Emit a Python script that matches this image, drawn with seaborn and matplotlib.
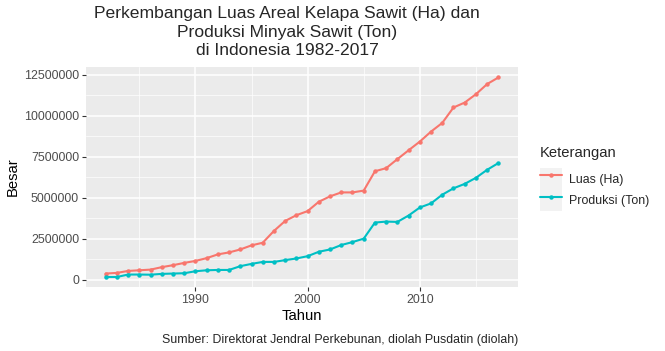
import numpy as np
import pandas as pd
import matplotlib
matplotlib.use("Agg")
import matplotlib.pyplot as plt
import seaborn as sns
from matplotlib.lines import Line2D
from matplotlib.patches import Patch
from matplotlib.legend_handler import HandlerTuple
from matplotlib.ticker import StrMethodFormatter, MultipleLocator

# data
tahun = list(range(1982, 2018))
luas = [0.37, 0.41, 0.53, 0.57, 0.61, 0.76, 0.88, 1.02, 1.14, 1.31,
        1.54, 1.66, 1.84, 2.09, 2.25, 2.97, 3.58, 3.93, 4.18, 4.75,
        5.08, 5.32, 5.32, 5.43, 6.61, 6.80, 7.35, 7.89, 8.42, 9.03,
        9.56, 10.50, 10.80, 11.31, 11.93, 12.33]
produksi = [0.16, 0.16, 0.31, 0.31, 0.30, 0.35, 0.37, 0.39, 0.51, 0.57,
            0.59, 0.59, 0.82, 0.96, 1.08, 1.08, 1.19, 1.29, 1.43, 1.70,
            1.84, 2.11, 2.29, 2.50, 3.48, 3.54, 3.52, 3.91, 4.40, 4.65,
            5.18, 5.57, 5.84, 6.21, 6.70, 7.11]
seri = ["Luas (Ha)", "Produksi (Ton)"]
warna = ["#F8766D", "#00BFC4"]

df = pd.DataFrame({
    "Tahun": tahun * 2,
    "Besar": [v * 1e6 for v in luas] + [v * 1e6 for v in produksi],
    "Keterangan": [seri[0]] * len(tahun) + [seri[1]] * len(tahun),
})

sns.set_theme(style="darkgrid")
plt.rcParams["font.family"] = ["Liberation Sans", "DejaVu Sans"]

fig = plt.figure(figsize=(6.65, 3.51), dpi=100)
ax = fig.add_axes([86 / 665, 1 - 287 / 351, 432 / 665, 220 / 351])
ax.set_facecolor("#EBEBEB")

sns.lineplot(data=df, x="Tahun", y="Besar", hue="Keterangan",
             palette=warna, linewidth=1.5, marker="o", markersize=3.2,
             markeredgewidth=0, ax=ax, legend=False)

ax.set_xlim(1980.25, 2018.75)
ax.set_ylim(-0.45e6, 12.97e6)
ax.xaxis.set_major_locator(MultipleLocator(10))
ax.xaxis.set_minor_locator(MultipleLocator(5))
ax.yaxis.set_major_locator(MultipleLocator(2.5e6))
ax.yaxis.set_minor_locator(MultipleLocator(1.25e6))
ax.yaxis.set_major_formatter(StrMethodFormatter("{x:.0f}"))
ax.grid(which="major", color="white", linewidth=1.1)
ax.grid(which="minor", color="white", linewidth=0.5)
ax.set_axisbelow(True)
for s in ax.spines.values():
    s.set_visible(False)
ax.tick_params(axis="both", which="major", length=3, width=0.8, color="#333333",
               labelsize=8.9, labelcolor="#4D4D4D", pad=2, bottom=True, left=True)
ax.tick_params(which="minor", length=0)

ax.set_xlabel("Tahun", fontsize=10.6, color="black", labelpad=2)
ax.set_ylabel("Besar", fontsize=10.6, color="black", labelpad=3)

# legend with grey key boxes like ggplot, title drawn separately
handles = [(Patch(facecolor="#F2F2F2", edgecolor="none"),
            Line2D([], [], color=c, linewidth=1.5, marker="o", markersize=3.2, markeredgewidth=0))
           for c in warna]
fig.text(540 / 665, 1 - 153 / 351, "Keterangan", ha="left", va="center", fontsize=10.6)
leg = fig.legend(handles, seri, loc="upper left",
                 bbox_to_anchor=(540 / 665, 1 - 168 / 351), frameon=False,
                 handler_map={tuple: HandlerTuple(ndivide=1, pad=0)},
                 handlelength=1.75, handleheight=2.3, handletextpad=0.6,
                 labelspacing=0.0, fontsize=8.9,
                 borderaxespad=0, borderpad=0)

fig.text(287 / 665, 1 - 6 / 351,
         "Perkembangan Luas Areal Kelapa Sawit (Ha) dan\nProduksi Minyak Sawit (Ton)\ndi Indonesia 1982-2017",
         ha="center", va="top", fontsize=12.6, linespacing=1.3)
fig.text(518 / 665, 1 - 340 / 351,
         "Sumber: Direktorat Jendral Perkebunan, diolah Pusdatin (diolah)",
         ha="right", va="center", fontsize=8.9)

fig.savefig("out.png", dpi=100, facecolor="white")
